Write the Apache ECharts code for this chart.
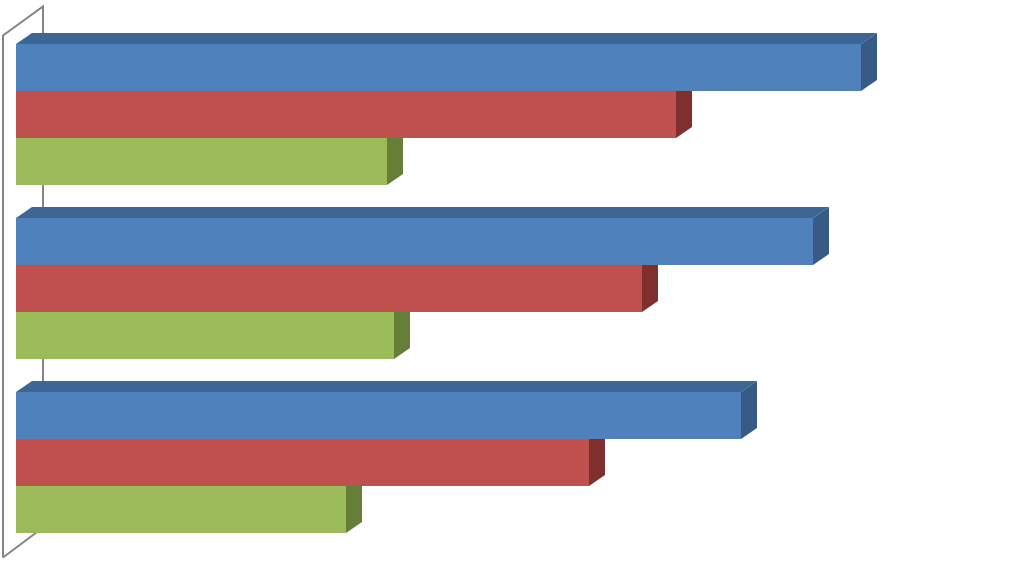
<!DOCTYPE html>
<html>
<head>
<meta charset="utf-8">
<script src="https://cdn.jsdelivr.net/npm/echarts@6/dist/echarts.min.js"></script>
<style>
  html, body { margin: 0; padding: 0; background: #fff; }
  #chart { width: 1023px; height: 562px; }
</style>
</head>
<body>
<div id="chart"></div>
<script>
// data (top group first)
const categories = ['Category 1', 'Category 2', 'Category 3']
const seriesNames = ['Series 1', 'Series 2', 'Series 3']
const series1 = [84.5, 79.7, 72.5]
const series2 = [66.0, 62.6, 57.3]
const series3 = [37.1, 37.8, 33.0]
const seriesValues = [series1, series2, series3]

// front / top / side colours per series
const palette = [
  { front: '#4F81BD', top: '#3D6694', side: '#375A87' },
  { front: '#C0504D', top: '#93403D', side: '#7F302E' },
  { front: '#9BBB59', top: '#738D3F', side: '#677E39' }
]

const DEPTH_X = 16
const DEPTH_Y = 11
const BAR_FRAC = 47 / 174

function makeBarRenderer(i) {
  const col = palette[i]
  return function (params, api) {
    const cat = api.value(1)
    const end = api.coord([api.value(0), cat])
    const start = api.coord([0, cat])
    const band = api.size([0, 1])[1]
    const h = band * BAR_FRAC
    const y0 = end[1] - 1.5 * h + i * h
    const x0 = start[0]
    const x1 = end[0]
    return {
      type: 'group',
      children: [
        {
          type: 'polygon',
          shape: { points: [[x0, y0], [x0 + DEPTH_X, y0 - DEPTH_Y], [x1 + DEPTH_X, y0 - DEPTH_Y], [x1, y0]] },
          style: { fill: col.top }
        },
        {
          type: 'polygon',
          shape: { points: [[x1, y0], [x1 + DEPTH_X, y0 - DEPTH_Y], [x1 + DEPTH_X, y0 + h - DEPTH_Y], [x1, y0 + h]] },
          style: { fill: col.side }
        },
        {
          type: 'rect',
          shape: { x: x0, y: y0, width: x1 - x0, height: h },
          style: { fill: col.front }
        }
      ]
    }
  }
}

// the left side wall of the 3D plot
function renderWall(params, api) {
  const cs = params.coordSys
  const fx = cs.x - 13
  const bx = cs.x + 27
  const fTop = cs.y + 8
  const bTop = cs.y - 21
  const fBot = cs.y + cs.height + 8
  const bBot = fBot - 30
  const line = { stroke: '#858585', lineWidth: 2, fill: null }
  return {
    type: 'group',
    children: [
      { type: 'polyline', shape: { points: [[fx, fBot], [fx, fTop], [bx, bTop], [bx, bBot], [fx, fBot]] }, style: line }
    ]
  }
}

const chart = echarts.init(document.getElementById('chart'))

const barSeries = seriesNames.map((name, i) => ({
  name,
  type: 'custom',
  clip: false,
  silent: true,
  z: 10 - i,
  renderItem: makeBarRenderer(i),
  encode: { x: 0, y: 1 },
  data: seriesValues[i].map((v, k) => [v, k])
}))

chart.setOption({
  animation: false,
  backgroundColor: '#ffffff',
  grid: { left: 16, right: 7, top: 27.5, height: 522 },
  xAxis: { type: 'value', min: 0, max: 100, show: false },
  yAxis: { type: 'category', data: categories, inverse: true, show: false },
  series: [
    {
      name: 'wall',
      type: 'custom',
      clip: false,
      silent: true,
      z: 1,
      renderItem: renderWall,
      data: [[0, 0]]
    },
    ...barSeries
  ]
})
</script>
</body>
</html>
